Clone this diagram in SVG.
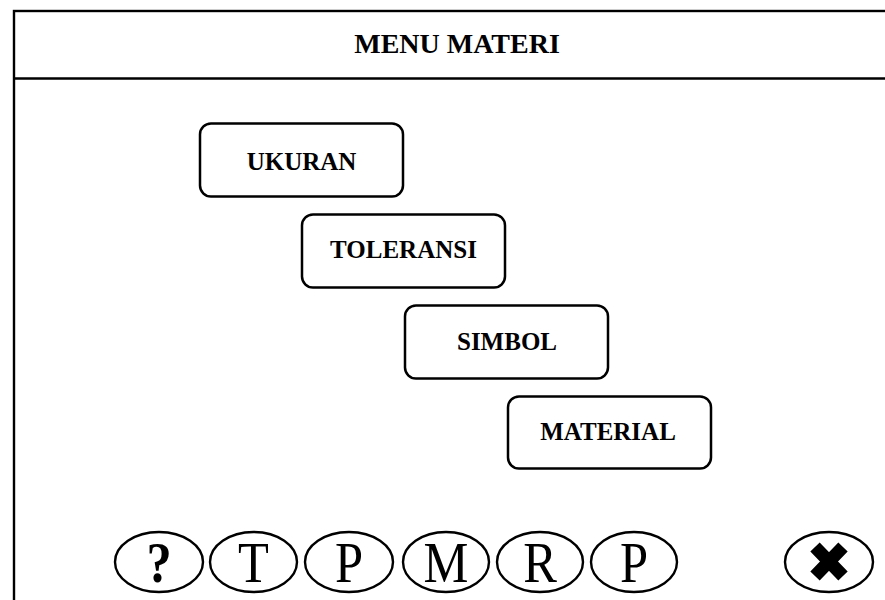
<svg xmlns="http://www.w3.org/2000/svg" width="885" height="600" viewBox="0 0 885 600">
  <style>
    .frame { fill: #fff; stroke: #000; stroke-width: 2.4; }
    .menu rect { fill: #fff; stroke: #000; stroke-width: 2.5; }
    .menu text { font-family: "Liberation Serif", "Times New Roman", serif; font-weight: bold; font-size: 25px; text-anchor: middle; fill: #000; }
    .btn ellipse { fill: #fff; stroke: #000; stroke-width: 2.4; }
    .btn text { font-family: "Liberation Serif", "Times New Roman", serif; font-size: 58px; text-anchor: middle; fill: #000; }
    .title { font-family: "Liberation Serif", "Times New Roman", serif; font-weight: bold; font-size: 28px; text-anchor: middle; fill: #000; }
  </style>
  <rect width="885" height="600" fill="#fff"/>

  <!-- window frame with header bar -->
  <g id="window">
    <rect class="frame" x="14" y="11" width="880" height="600"/>
    <line x1="14" y1="78.5" x2="890" y2="78.5" stroke="#000" stroke-width="2.4"/>
    <text class="title" x="457" y="53">MENU MATERI</text>
  </g>

  <!-- menu entries -->
  <g id="ukuran" class="menu">
    <rect x="200" y="123.5" width="203" height="73" rx="11"/>
    <text x="301.5" y="170">UKURAN</text>
  </g>
  <g id="toleransi" class="menu">
    <rect x="302" y="214.5" width="203" height="73" rx="11"/>
    <text x="403.5" y="258">TOLERANSI</text>
  </g>
  <g id="simbol" class="menu">
    <rect x="405" y="305.5" width="203" height="73" rx="11"/>
    <text x="507" y="350">SIMBOL</text>
  </g>
  <g id="material" class="menu">
    <rect x="508" y="396.5" width="203" height="72" rx="11"/>
    <text x="608" y="440">MATERIAL</text>
  </g>

  <!-- bottom navigation buttons -->
  <g id="btn-help" class="btn">
    <ellipse cx="159" cy="562" rx="44" ry="30"/>
    <text transform="translate(159 582) scale(0.87 1)" font-weight="bold">?</text>
  </g>
  <g id="btn-t" class="btn">
    <ellipse cx="253.5" cy="562" rx="43.5" ry="30"/>
    <text transform="translate(253.5 582) scale(0.87 1)">T</text>
  </g>
  <g id="btn-p1" class="btn">
    <ellipse cx="349" cy="562" rx="44" ry="30"/>
    <text transform="translate(349 582) scale(0.87 1)">P</text>
  </g>
  <g id="btn-m" class="btn">
    <ellipse cx="446" cy="562" rx="43" ry="30"/>
    <text transform="translate(446 582) scale(0.87 1)">M</text>
  </g>
  <g id="btn-r" class="btn">
    <ellipse cx="540" cy="562" rx="43" ry="30"/>
    <text transform="translate(540 582) scale(0.87 1)">R</text>
  </g>
  <g id="btn-p2" class="btn">
    <ellipse cx="634" cy="562" rx="43" ry="30"/>
    <text transform="translate(634 582) scale(0.87 1)">P</text>
  </g>
  <g id="btn-close" class="btn">
    <ellipse cx="829" cy="562" rx="44" ry="30"/>
    <path d="M815 547 L843 576 M843 547 L815 576" stroke="#000" stroke-width="13" stroke-linecap="butt" fill="none"/>
  </g>

  <!-- no connectors in this screen -->
  <g id="connectors"/>
</svg>
